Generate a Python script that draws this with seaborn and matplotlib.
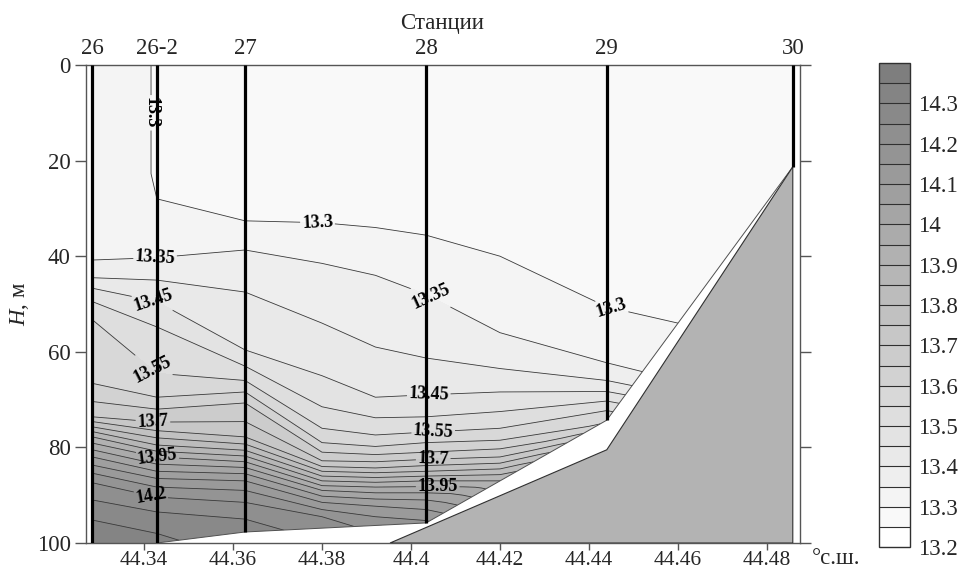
import numpy as np
import matplotlib
matplotlib.use("Agg")
import matplotlib.pyplot as plt
import matplotlib.tri as mtri
import matplotlib.font_manager as fm
import seaborn as sns
from matplotlib.patches import Polygon
from matplotlib.ticker import FuncFormatter

# stations along the section
station_names = ["26", "26-2", "27", "28", "29", "30"]
station_lat = [44.3284, 44.3429, 44.3627, 44.4034, 44.444, 44.4858]
station_bottom = [100, 100, 97.7, 95.8, 74.3, 21.3]

# shelf slope (grey area)
slope_lat = [44.3953, 44.444, 44.4858, 44.4858]
slope_depth = [100, 80.5, 21.3, 100]

# temperature profiles (depth, m -> T, deg C)
lat_26, d_26 = 44.3284, [0, 30, 40.8, 44.5, 46.7, 49.5, 53.3, 66.6, 70.4, 73.6, 74.6, 75.7, 76.7,
                         77.8, 79.1, 80.5, 82.0, 83.7, 85.4, 87.4, 91.0, 95.2, 100]
t_26 = [13.32, 13.33, 13.35, 13.40, 13.45, 13.50, 13.55, 13.60, 13.65, 13.70, 13.75, 13.80, 13.85,
        13.90, 13.95, 14.00, 14.05, 14.10, 14.15, 14.20, 14.25, 14.30, 14.34]

lat_26_2, d_26_2 = 44.3429, [0, 25, 28, 40.3, 45, 49.5, 54.8, 64.5, 69.5, 72, 74.7, 76.5, 78, 79.5,
                             80.8, 82, 83.5, 85, 86.5, 88.3, 90.4, 93.5, 98, 100]
t_26_2 = [13.298, 13.298, 13.30, 13.35, 13.40, 13.45, 13.50, 13.55, 13.60, 13.65, 13.70, 13.75, 13.80,
          13.85, 13.90, 13.95, 14.00, 14.05, 14.10, 14.15, 14.20, 14.25, 14.30, 14.31]

lat_27, d_27 = 44.3627, [0, 32.6, 38.7, 47.5, 59.6, 63.0, 66.0, 68.4, 70.7, 74.6, 77.8, 79.3, 80.6,
                         81.8, 83.0, 84.2, 85.5, 87.0, 89.0, 91.5, 95.0, 97.7]
t_27 = [13.28, 13.30, 13.35, 13.40, 13.45, 13.50, 13.55, 13.60, 13.65, 13.70, 13.75, 13.80, 13.85,
        13.90, 13.95, 14.00, 14.05, 14.10, 14.15, 14.20, 14.25, 14.27]

lat_a, d_a = 44.380, [0, 33, 41.5, 54, 65, 71.5, 76, 79, 81, 82.8, 84, 85, 86, 87, 88, 89, 90.2,
                      91.5, 93, 94.5, 96.9]
t_a = [13.27, 13.30, 13.35, 13.40, 13.45, 13.50, 13.55, 13.60, 13.65, 13.70, 13.75, 13.80, 13.85,
       13.90, 13.95, 14.00, 14.05, 14.10, 14.15, 14.20, 14.23]

lat_b, d_b = 44.392, [0, 34, 44, 59, 69.5, 73.8, 77.4, 79.8, 81.5, 83, 84.3, 85.3, 86.3, 87.3, 88.3,
                      89.5, 90.8, 92.3, 94.5, 96.3]
t_b = [13.27, 13.30, 13.35, 13.40, 13.45, 13.50, 13.55, 13.60, 13.65, 13.70, 13.75, 13.80, 13.85,
       13.90, 13.95, 14.00, 14.05, 14.10, 14.15, 14.18]

lat_28, d_28 = 44.4034, [0, 35.6, 48, 61.3, 69, 73.6, 76.8, 79, 81, 82.5, 83.8, 85, 86, 87, 88.2,
                         89.5, 91, 93, 95.3, 95.8]
t_28 = [13.26, 13.30, 13.35, 13.40, 13.45, 13.50, 13.55, 13.60, 13.65, 13.70, 13.75, 13.80, 13.85,
        13.90, 13.95, 14.00, 14.05, 14.10, 14.15, 14.16]

lat_c, d_c = 44.420, [0, 40, 56, 63.5, 68.4, 72.5, 76, 78.5, 80.3, 82, 83.3, 84.5, 85.7, 87]
t_c = [13.26, 13.30, 13.35, 13.40, 13.45, 13.50, 13.55, 13.60, 13.65, 13.70, 13.75, 13.80, 13.85, 13.90]

lat_29, d_29 = 44.444, [0, 50.6, 62.3, 66, 68.3, 70.3, 72.3, 74.3]
t_29 = [13.25, 13.30, 13.35, 13.40, 13.45, 13.50, 13.55, 13.58]

lat_d, d_d = 44.460, [0, 54, 66, 69, 71, 73, 75, 80, 88, 100]
t_d = [13.25, 13.30, 13.35, 13.40, 13.45, 13.50, 13.55, 13.60, 13.70, 13.80]

lat_30, d_30 = 44.4858, [0, 21.3, 60, 100]
t_30 = [13.25, 13.26, 13.30, 13.60]

profiles = [(lat_26, d_26, t_26), (lat_26_2, d_26_2, t_26_2), (lat_27, d_27, t_27), (lat_a, d_a, t_a),
            (lat_b, d_b, t_b), (lat_28, d_28, t_28), (lat_c, d_c, t_c), (lat_29, d_29, t_29),
            (lat_d, d_d, t_d), (lat_30, d_30, t_30)]

levels = np.round(np.arange(13.2, 14.41, 0.05), 2)
cbar_ticks = np.round(np.arange(13.2, 14.31, 0.1), 1)

# contour labels: level -> positions
label_pos = {
    13.3: [(44.3405, 10), (44.379, 33), (44.445, 51)],
    13.35: [(44.3425, 40.3), (44.4045, 48.5)],
    13.45: [(44.342, 49.5), (44.404, 69)],
    13.55: [(44.342, 63.5), (44.405, 76.8)],
    13.7: [(44.342, 74.7), (44.405, 82.5)],
    13.95: [(44.343, 82), (44.406, 88.2)],
    14.2: [(44.3415, 90.2)],
}

sns.set_style("ticks")
for path in fm.findSystemFonts():
    if "liberationserif" in path.lower().replace("-", "").replace("_", ""):
        try:
            fm.fontManager.addfont(path)
        except Exception:
            pass
names = {f.name for f in fm.fontManager.ttflist}
serif = next((n for n in ["Liberation Serif", "Tinos", "Times New Roman", "Nimbus Roman",
                          "FreeSerif", "DejaVu Serif"] if n in names), "DejaVu Serif")
plt.rcParams["font.family"] = [serif, "DejaVu Serif"]
plt.rcParams["mathtext.fontset"] = "custom"
plt.rcParams["mathtext.it"] = serif + ":italic"
plt.rcParams["mathtext.rm"] = serif

# points of all profiles; strips between neighbouring profiles are
# triangulated by zipping the two columns in order of temperature
x, y, z, cols = [], [], [], []
for lat, d, t in profiles:
    start = len(x)
    x += [lat] * len(d)
    y += list(d)
    z += list(t)
    cols.append(list(range(start, len(x))))
x, y, z = np.array(x, float), np.array(y, float), np.array(z, float)
triangles = []
for A, B in zip(cols[:-1], cols[1:]):
    a = b = 0
    while a < len(A) - 1 or b < len(B) - 1:
        if b == len(B) - 1 or (a < len(A) - 1 and z[A[a + 1]] <= z[B[b + 1]]):
            triangles.append([A[a], A[a + 1], B[b]])
            a += 1
        else:
            triangles.append([A[a], B[b + 1], B[b]])
            b += 1
tri = mtri.Triangulation(x, y, triangles=np.array(triangles))

fs = 16.5
fig = plt.figure(figsize=(9.59, 5.75), dpi=100)
ax = fig.add_axes([86 / 959, 1 - 543 / 575, (800 - 86) / 959, (543 - 65) / 575])
cax = fig.add_axes([879 / 959, 1 - 547 / 575, 31 / 959, 484 / 575])

# data area: from the surface down to the sea floor between stations 26 and 30
edge_lat = station_lat[::-1]
edge_depth = station_bottom[::-1]
clip_xy = [(station_lat[0], 0), (station_lat[5], 0)] + list(zip(edge_lat, edge_depth))
clip = Polygon(clip_xy, closed=True, transform=ax.transData, facecolor="none", edgecolor="none")
ax.add_patch(clip)

greys = sns.blend_palette(["#ffffff", "#7e7e7e"], n_colors=len(levels) - 1)
cf = ax.tricontourf(tri, z, levels=levels, colors=greys)
cf.set_clip_path(clip)

line_kw = dict(colors="#3a3a3a", linewidths=0.6)
plain = [lv for lv in levels if not any(np.isclose(lv, k) for k in label_pos)]
cs = ax.tricontour(tri, z, levels=plain, **line_kw)
cs.set_clip_path(clip)
for lev, pos in label_pos.items():
    cl = ax.tricontour(tri, z, levels=[lev], **line_kw)
    cl.set_clip_path(clip)
    texts = ax.clabel(cl, manual=pos, inline=True, fmt="%g", fontsize=13,
                      colors="k", inline_spacing=2)
    for t in texts:
        t.set_fontweight("bold")

ax.plot(edge_lat[:-1], edge_depth[:-1], color="#505050", lw=0.7, zorder=3)
ax.fill(slope_lat, slope_depth, facecolor="#b3b3b3", edgecolor="#303030", lw=0.8, zorder=4)
ax.vlines(station_lat, 0, station_bottom, colors="k", lw=2.3, zorder=5)

ax.set_xlim(44.32697, 44.48742)
ax.set_ylim(100, 0)
ax.set_xticks(np.round(np.arange(44.34, 44.481, 0.02), 2))
ax.xaxis.set_major_formatter(FuncFormatter(lambda v, p: f"{v:g}"))
ax.set_yticks(np.arange(0, 101, 20))
ax.tick_params(axis="y", left=True, right=True, direction="out", length=8, width=1,
               color="#555555", labelsize=fs, pad=3)
ax.tick_params(axis="x", bottom=True, top=False, direction="out", length=5, width=1,
               color="#555555", labelsize=15.5, pad=1)
for s in ax.spines.values():
    s.set_color("#555555")
    s.set_linewidth(1)
ax.set_ylabel("$H$, м", fontsize=fs, labelpad=4)

sec = ax.secondary_xaxis("top")
sec.set_xticks(station_lat, labels=station_names)
sec.tick_params(length=0, pad=4, labelsize=fs)
sec.spines["top"].set_visible(False)
fig.text(442 / 959, 1 - 29 / 575, "Станции", ha="center", va="baseline", fontsize=fs)
fig.text(812 / 959, 1 - 558 / 575, "°с.ш.", ha="left", va="center", fontsize=fs)

cb = fig.colorbar(cf, cax=cax, ticks=cbar_ticks, drawedges=True)
cb.ax.yaxis.set_major_formatter(FuncFormatter(lambda v, p: f"{v:g}"))
cb.ax.tick_params(length=0, labelsize=fs, pad=6)
cb.outline.set_color("#303030")
cb.outline.set_linewidth(1)
cb.dividers.set_color("#303030")
cb.dividers.set_linewidth(0.8)

fig.savefig("out.png", dpi=100)
